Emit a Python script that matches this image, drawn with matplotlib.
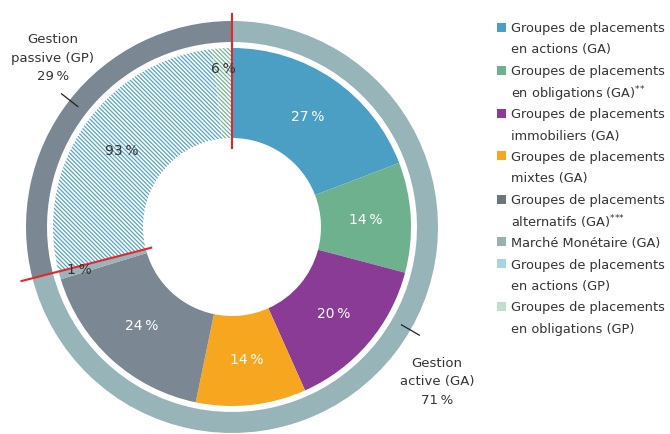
import numpy as np
import matplotlib
matplotlib.use("Agg")
import matplotlib.pyplot as plt
from matplotlib.patches import Rectangle

# ── data ────────────────────────────────────────────────────────────────
mgmt_labels = ["Gestion\nactive (GA)\n71\u2009%", "Gestion\npassive (GP)\n29\u2009%"]
mgmt_share = [71, 29]

ga_share = [27, 14, 20, 14, 24, 1]     # % within active management
gp_share = [93, 6]                     # % within passive management

legend_labels = [
    "Groupes de placements\nen actions (GA)",
    "Groupes de placements\nen obligations (GA)$^{{*}{*}}$",
    "Groupes de placements\nimmobiliers (GA)",
    "Groupes de placements\nmixtes (GA)",
    "Groupes de placements\nalternatifs (GA)$^{{*}{*}{*}}$",
    "Marché Monétaire (GA)",
    "Groupes de placements\nen actions (GP)",
    "Groupes de placements\nen obligations (GP)",
]

# ── style ───────────────────────────────────────────────────────────────
ga_colours = ["#4b9fc5", "#6db18f", "#8a3b96", "#f6a71f", "#7b8893", "#97b4b8"]
gp_hatch_colours = ["#55a5c9", "#74b594"]
legend_colours = ga_colours[:4] + ["#6e767c", "#97b1b3", "#aad4e4", "#c0e0cd"]
ring_colours = ["#97b4b8", "#7b8893"]
txt_dark = "#333333"
red = "#e8242c"

plt.rcParams["font.family"] = "DejaVu Sans"
plt.rcParams["hatch.linewidth"] = 0.9

W, H = 670, 434
cx, cy, R = 232, 227, 206   # donut centre / radius in pixels

fig = plt.figure(figsize=(W / 100, H / 100), dpi=100)
ax = fig.add_axes([0, 0, 1, 1])

# outer ring: active vs passive
ax.pie(mgmt_share, radius=1.0, colors=ring_colours, startangle=90,
       counterclock=False, wedgeprops=dict(width=0.102, linewidth=0))

# inner ring: sub-categories, scaled into their management share
ga_total, gp_total = mgmt_share
inner_vals = [v * ga_total / sum(ga_share) for v in ga_share] + \
             [v * gp_total / sum(gp_share) for v in gp_share]
inner_cols = ga_colours + ["white", "white"]
wedges, _ = ax.pie(inner_vals, radius=0.869, colors=inner_cols, startangle=90,
                   counterclock=False, wedgeprops=dict(width=0.437, linewidth=0))
for w, hc in zip(wedges[len(ga_share):], gp_hatch_colours):
    w.set_hatch("\\" * 8)
    w.set_edgecolor(hc)

ax.set_aspect("auto")
ax.set_xlim(-cx / R, (W - cx) / R)
ax.set_ylim(-(H - cy) / R, cy / R)
ax.axis("off")

# slice labels
pct_labels = ga_share + gp_share
for i, (w, v) in enumerate(zip(wedges, pct_labels)):
    ang = np.deg2rad((w.theta1 + w.theta2) / 2)
    small = v < 10
    r = 0.77 if small else 0.65
    colour = "white" if i < len(ga_share) and not small else txt_dark
    ax.text(r * np.cos(ang), r * np.sin(ang), f"{v}\u2009%", ha="center",
            va="center", fontsize=10, color=colour)

# red separators at the GA / GP boundaries
for ang_deg, r0, r1 in [(90, 0.38, 1.04), (90 - ga_total * 3.6, 0.40, 1.06)]:
    a = np.deg2rad(ang_deg)
    ax.plot([r0 * np.cos(a), r1 * np.cos(a)], [r0 * np.sin(a), r1 * np.sin(a)],
            color=red, lw=1.5, solid_capstyle="butt")

# outer ring annotations
for lab, ang_deg, tx, ty in [(mgmt_labels[0], -30, 0.995, -0.752),
                             (mgmt_labels[1], 142, -0.869, 0.820)]:
    a = np.deg2rad(ang_deg)
    ax.plot([0.95 * np.cos(a), 1.05 * np.cos(a)], [0.95 * np.sin(a), 1.05 * np.sin(a)],
            color="#222222", lw=0.9)
    ax.text(tx, ty, lab, ha="center", va="center", fontsize=9.5,
            color=txt_dark, linespacing=1.55, multialignment="center")

# legend (manual, two-line entries)
line_h = 21.5
y = 27.0
for lab, col in zip(legend_labels, legend_colours):
    fig.patches.append(Rectangle(((497) / W, 1 - (y + 4.5) / H), 9 / W, 9 / H,
                                 transform=fig.transFigure, color=col, lw=0))
    n = lab.count("\n") + 1
    for k, part in enumerate(lab.split("\n")):
        fig.text(511 / W, 1 - (y + k * line_h) / H, part, ha="left",
                 va="center_baseline", fontsize=9.3, color=txt_dark)
    y += n * line_h

fig.savefig("out.png", dpi=100)
